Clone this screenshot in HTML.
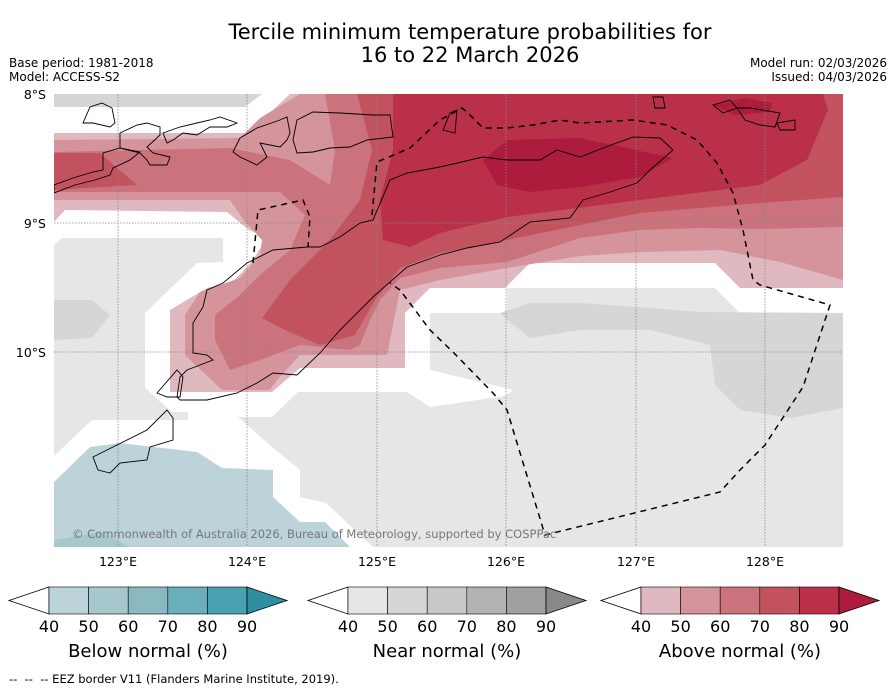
<!DOCTYPE html>
<html><head><meta charset="utf-8"><style>
body{margin:0;background:#fff;width:896px;height:690px;overflow:hidden;font-family:"Liberation Sans","DejaVu Sans",sans-serif}
svg{position:absolute;left:0;top:0}
</style></head><body>
<svg id="chart" width="896" height="690" font-family="DejaVu Sans, Liberation Sans, sans-serif">
<text x="470" y="39" font-size="21" text-anchor="middle">Tercile minimum temperature probabilities for</text>
<text x="470" y="62" font-size="21" text-anchor="middle">16 to 22 March 2026</text>
<text x="9" y="67" font-size="12">Base period: 1981-2018</text>
<text x="9" y="81" font-size="12">Model: ACCESS-S2</text>
<text x="887" y="67" font-size="12" text-anchor="end">Model run: 02/03/2026</text>
<text x="887" y="81" font-size="12" text-anchor="end">Issued: 04/03/2026</text>
<defs><clipPath id="mc"><rect x="54" y="94" width="789" height="453"/></clipPath></defs>
<g clip-path="url(#mc)">
<rect x="54" y="94" width="789" height="453" fill="#fff"/>
<polygon fill="#d6d6d6" points="54,94 262,94 245,107 54,107"/>
<polygon fill="#e6e6e6" points="54,245 62,238 223,238 223,262 197,263 145,313 145,388 172,412 188,412 188,420 92,420 54,456"/>
<polygon fill="#d6d6d6" points="54,300 92,300 110,315 92,338 54,340"/>
<polygon fill="#e6e6e6" points="238,417 272,417 298,392 407,392 430,370 430,313 507,313 507,288 715,288 740,313 843,313 843,547 373,547 326,503 300,497 300,470 272,447"/>
<polygon fill="#fff" points="407,392 430,370 513,390 505,396 430,407"/>
<polygon fill="#d6d6d6" points="500,313 530,303 580,303 650,308 700,312 843,313 843,408 790,418 740,410 715,385 710,345 650,330 580,330 530,338 505,318"/>
<polygon fill="#bcd3da" points="54,482 90,447 120,443 197,452 222,468 273,470 273,497 300,522 325,522 350,547 54,547"/>
<polygon fill="#a6c7cc" points="54,540 100,532 130,547 54,547"/>
<polygon fill="#e0b8bf" points="54,133 248,133 290,94 843,94 843,288 740,288 715,263 530,263 505,288 430,288 405,313 405,368 300,368 272,392 170,392 170,310 207,288 233,282 253,260 267,237 249,230 227,212 65,210 54,222"/>
<polygon fill="#d5939c" points="54,140 240,138 260,118 300,94 843,94 843,280 780,262 720,250 640,252 580,256 507,268 440,280 400,290 387,355 300,355 277,380 270,390 222,390 185,355 185,315 200,292 240,278 260,255 262,240 245,222 230,200 54,200"/>
<polygon fill="#cb737c" points="54,152 230,148 290,160 330,185 335,150 325,94 843,94 843,227 760,229 700,228 640,230 580,238 507,262 440,268 400,278 380,300 370,320 360,345 350,350 300,345 260,360 230,370 215,340 215,315 240,295 260,275 290,250 305,215 280,192 54,192"/>
<polygon fill="#c3525f" points="54,153 100,153 137,185 54,190"/>
<polygon fill="#c3525f" points="357,94 843,94 843,197 760,203 640,213 580,225 507,240 440,253 400,268 375,300 355,335 320,345 285,330 262,318 290,280 330,240 360,200 372,150"/>
<polygon fill="#b93048" points="393,94 823,94 828,110 807,160 760,185 640,200 507,217 440,233 410,247 383,240 380,200 393,150"/>
<polygon fill="#ad1c3c" points="483,160 507,140 580,138 673,158 640,177 580,187 530,192 497,185"/>
<polygon fill="#ad1c3c" points="713,105 745,98 772,103 770,112 735,115"/>
<g stroke="#888" stroke-width="0.8" stroke-dasharray="1.5,1.5" fill="none">
<line x1="118" y1="94" x2="118" y2="547"/><line x1="247" y1="94" x2="247" y2="547"/><line x1="377" y1="94" x2="377" y2="547"/>
<line x1="506" y1="94" x2="506" y2="547"/><line x1="636" y1="94" x2="636" y2="547"/><line x1="765" y1="94" x2="765" y2="547"/>
<line x1="54" y1="223" x2="843" y2="223"/><line x1="54" y1="352" x2="843" y2="352"/>
</g>
<g stroke="#000" stroke-width="0.9" fill="none">
<polygon points="440,167 483,157 507,160 540,160 557,150 580,157 603,148 633,137 660,138 673,150 650,170 637,183 607,193 583,200 570,218 530,222 500,242 467,248 440,255 407,267 373,297 340,330 320,353 297,375 273,373 257,383 237,393 207,400 180,400 177,397 180,377 187,370 213,360 207,355 193,353 193,323 203,307 207,290 223,283 247,263 273,250 307,247 320,247 340,237 360,223 373,220 390,180 407,173"/>
<polygon points="157,393 177,370 183,377 180,397 167,397"/>
<polygon points="93,457 117,445 147,430 167,410 173,418 173,440 150,447 147,460 120,463 110,473 98,470"/>
<polygon points="54,185 73,178 93,172 103,170 103,153 120,148 140,152 130,160 113,168 110,175 95,180 75,185 54,193"/>
<polygon points="83,123 90,107 102,103 112,108 115,123 110,127 93,123"/>
<polygon points="120,133 137,125 147,123 160,127 160,135 147,147 153,153 170,157 167,165 150,165 147,160 140,153 120,148"/>
<polygon points="163,133 180,127 197,123 210,120 220,117 237,123 227,127 210,127 197,135 183,133 173,140 167,143"/>
<polygon points="240,138 257,128 280,120 287,117 290,133 287,140 280,147 260,143 267,157 257,165 240,157 233,152"/>
<polygon points="297,120 313,112 340,113 373,115 390,115 393,137 367,140 350,147 330,148 313,152 297,153 293,140"/>
<polygon points="443,130 450,113 457,110 455,133"/>
<polygon points="653,97 663,97 665,108 655,108"/>
<polygon points="713,105 730,100 737,108 723,113"/>
<polygon points="737,108 750,108 780,113 775,127 760,125 745,120"/>
<polygon points="777,123 795,120 795,130 780,130"/>
</g>
<g stroke="#000" stroke-width="1.5" stroke-dasharray="6,5" fill="none">
<polyline points="372,215 377,162 410,148 440,120 462,108 467,112 483,128 507,128 533,125 560,120 580,123 633,120 667,125 697,140 717,163 733,193 743,230 753,280 760,285 830,305 803,387 765,445 740,470 720,492 545,535 507,410 493,393 453,352 430,330 400,290 390,283"/>
<polyline points="253,263 258,210 303,200 310,217 308,247"/>
</g>
<text x="72" y="538" font-size="11.5" fill="#777">© Commonwealth of Australia 2026, Bureau of Meteorology, supported by COSPPac</text>
</g>
<g font-size="12.5">
<text x="46" y="99" text-anchor="end">8°S</text><text x="46" y="228" text-anchor="end">9°S</text><text x="46" y="357" text-anchor="end">10°S</text>
</g>
<g font-size="12.5" text-anchor="middle">
<text x="118" y="566">123°E</text><text x="247" y="566">124°E</text><text x="377" y="566">125°E</text><text x="506" y="566">126°E</text><text x="636" y="566">127°E</text><text x="765" y="566">128°E</text>
</g>
<g id="cbars"></g>
<text x="9" y="683" font-size="11.5" style="white-space:pre">--  --  -- EEZ border V11 (Flanders Marine Institute, 2019).</text>
</svg>
<script>
const tickLabels = [40, 50, 60, 70, 80, 90];
const belowColors = ["#bcd3da","#a6c7cc","#8ab9c1","#6aaebb","#49a2b2","#2e8fa3"];
const nearColors = ["#e6e6e6","#d6d6d6","#c8c8c8","#b3b3b3","#a0a0a0","#888888"];
const aboveColors = ["#e0b8bf","#d5939c","#cb737c","#c3525f","#b93048","#ad1c3c"];
const barTitles = ["Below normal (%)","Near normal (%)","Above normal (%)"];
const NS='http://www.w3.org/2000/svg';
const g=document.getElementById('cbars');
function mk(t,a,p){const e=document.createElementNS(NS,t);for(const k in a)e.setAttribute(k,a[k]);(p||g).appendChild(e);return e;}
const barX=[49,348,641], W=198, y0=587, h=27;
[belowColors,nearColors,aboveColors].forEach((cols,bi)=>{
  const x0=barX[bi];
  const xs=v=>x0+(v-tickLabels[0])/(tickLabels[tickLabels.length-1]-tickLabels[0])*W;
  const grp=mk('g',{});
  
  
  const lt=mk('polygon',{points:`${x0},${y0} ${x0-40},${y0+h/2} ${x0},${y0+h}`,fill:'#fff',stroke:'#000','stroke-width':0.8},grp);
  
  
  for(let i=0;i<tickLabels.length-1;i++){
    const r=mk('rect',{x:xs(tickLabels[i]),y:y0,width:xs(tickLabels[i+1])-xs(tickLabels[i]),height:h,fill:cols[i],stroke:'#000','stroke-width':0.6},grp);
    
    
  }
  const xe=xs(tickLabels[tickLabels.length-1]);
  const rt=mk('polygon',{points:`${xe},${y0} ${xe+40},${y0+h/2} ${xe},${y0+h}`,fill:cols[cols.length-1],stroke:'#000','stroke-width':0.8},grp);
  
  
  tickLabels.forEach(v=>{
    const t=mk('text',{x:xs(v),y:y0+h+18,'font-size':16,'text-anchor':'middle'},grp);
    
    
    t.textContent=v;
  });
  const tt=mk('text',{x:x0+W/2,y:y0+h+43,'font-size':18,'text-anchor':'middle'},grp);
  
  
  tt.textContent=barTitles[bi];
});
</script>
</body></html>
